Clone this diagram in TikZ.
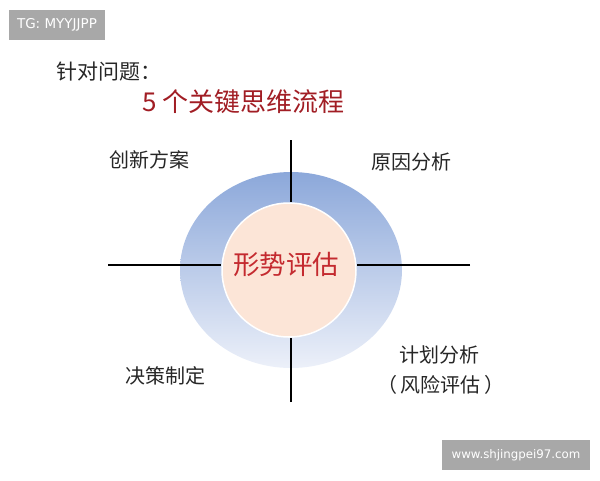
\documentclass[tikz,border=0pt]{standalone}
\usepackage{fontspec}
\setmainfont{Noto Sans CJK SC}
\newfontfamily\latfont{DejaVu Sans}
\usetikzlibrary{shapes.geometric}
\definecolor{badge}{HTML}{A8A8A8}
\definecolor{ringtop}{HTML}{8CA8DA}
\definecolor{ringbot}{HTML}{ECF0F9}
\definecolor{core}{HTML}{FCE5D7}
\definecolor{titlered}{HTML}{A11D24}
\definecolor{corered}{HTML}{C42A2F}
\tikzset{
  badgebox/.style={fill=badge, text=white, inner sep=0pt, font=\latfont\fontsize{13.5}{15}\selectfont},
  label/.style={text=black!85, inner sep=0pt, font=\fontsize{20}{24}\selectfont},
  axis/.style={draw=black, line width=2.2pt},
}
\begin{document}
\begin{tikzpicture}[x=1pt,y=-1pt]
\useasboundingbox (0,0) rectangle (600,480);
% badges
\node[badgebox, minimum width=96, minimum height=30] (tg) at (57,25) {TG: MYYJJPP};
\node[badgebox, minimum width=148, minimum height=30, font=\latfont\fontsize{11.8}{13}\selectfont] (web) at (516,455) {www.shjingpei97.com};
% titles
\node[label, anchor=west, font=\fontsize{21}{24}\selectfont] (q) at (56,72) {针对问题：};
\node[label, anchor=west, text=titlered, font=\fontsize{26}{30}\selectfont] (t) at (142,102) {5 个关键思维流程};
% rings
\node[ellipse, minimum width=222, minimum height=196, inner sep=0pt, top color=ringtop, bottom color=ringbot, draw=none] (ring) at (291,270) {};
\coordinate (topend) at (291,140);
\coordinate (botend) at (291,402);
\coordinate (leftend) at (108,265);
\coordinate (rightend) at (470,265);
\node[circle, minimum size=134, inner sep=0pt, fill=core, draw=white, line width=1.5pt] (c) at (289,270) {};
\draw[axis] (topend) -- (c.north -| topend);
\draw[axis] (botend) -- (c.south -| botend);
\draw[axis] (leftend) -- (c.west |- leftend);
\draw[axis] (rightend) -- (c.east |- rightend);
\node[text=corered, inner sep=0pt, font=\fontsize{26.5}{30}\selectfont] (ct) at (286,265) {形势评估};
% labels
\node[label] (a1) at (149,160) {创新方案};
\node[label] (a2) at (411,162) {原因分析};
\node[label] (a3) at (165,376) {决策制定};
\node[label] (a4) at (439,355) {计划分析};
\node[label] (a5) at (441,385) {（\,风险评估\,）};
\end{tikzpicture}
\end{document}
